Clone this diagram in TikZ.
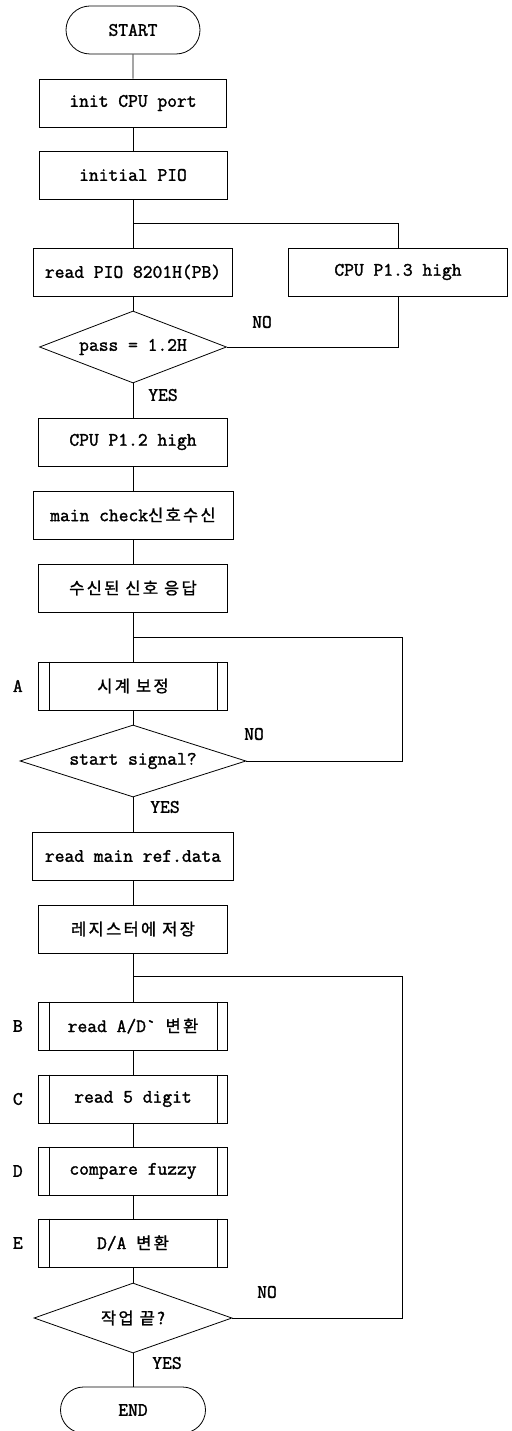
\documentclass[tikz,border=0pt]{standalone}
\usepackage{fontspec}
\setmonofont{Latin Modern Mono}[FakeBold=1.6]
\newfontfamily\kr{Noto Sans CJK KR}[LetterSpace=14, FakeBold=1.2]
\usepackage{tikz}
\usetikzlibrary{shapes.geometric, shapes.misc, positioning}

\newcommand{\hangul}[1]{{\kr\mdseries\fontsize{16.5}{19}\selectfont #1}}

\tikzset{
	proc/.style={draw, rectangle, minimum width=189pt, minimum height=48pt, inner sep=0pt},
	sub/.style={proc},
	dec/.style={draw, diamond, aspect=3, inner sep=0pt, minimum height=72pt},
	term/.style={draw, rounded rectangle, minimum width=134pt, minimum height=48pt, inner sep=0pt},
	tag/.style={inner sep=0pt},
}

\begin{document}
\begin{tikzpicture}[x=1pt, y=-1pt, line width=0.8pt, font=\fontsize{19}{22}\selectfont\ttfamily]
			\def\cx{133};
			\def\rx{402};

			\useasboundingbox (0,0) rectangle (511,1431);

			% main column
			\node[term] (start) at (\cx,30) {START};
			\node[proc, minimum width=187pt] (init) at (\cx,103) {init CPU port};
			\node[proc, minimum width=188pt] (pio) at (\cx,175) {initial PIO};
			\coordinate (j1) at (\cx,223);
			\node[proc, minimum width=199pt] (readpio) at (\cx,272) {read PIO 8201H(PB)};
			\node[proc, minimum width=219pt] (p13) at (398,272) {CPU P1.3 high};
			\node[dec, minimum width=187pt] (pass) at (\cx,347) {pass = 1.2H};
			\node[proc] (p12) at (\cx,442) {CPU P1.2 high};
			\node[proc, minimum width=200pt] (check) at (\cx,515) {main check\hangul{신호수신}};
			\node[proc] (reply) at (\cx,588) {\hangul{수신된 신호 응답}};
			\coordinate (j2) at (\cx,637);
			\coordinate (r2) at (\rx,637);
			\node[sub] (clock) at (\cx,686) {\hangul{시계 보정}};
			\node[dec, minimum width=226pt] (sig) at (\cx,761) {start signal?};
			\node[proc, minimum width=201pt] (ref) at (\cx,856) {read main ref.data};
			\node[proc] (reg) at (\cx,929) {\hangul{레지스터에 저장}};
			\coordinate (j3) at (\cx,976);
			\coordinate (r3) at (\rx,976);
			\node[sub] (adconv) at (\cx,1026) {read A/D\textasciigrave{} \hangul{변환}};
			\node[sub] (digit) at (\cx,1099) {read 5 digit};
			\node[sub] (fuzzy) at (\cx,1171) {compare fuzzy};
			\node[sub] (daconv) at (\cx,1243) {D/A \hangul{변환}};
			\node[dec, minimum width=198pt, minimum height=70pt] (done) at (\cx,1318) {\hangul{작업 끝?}};
			\node[term, minimum width=145pt, minimum height=46pt] (end) at (\cx,1410) {END};

			% subroutine bars
			\foreach \n in {clock, adconv, digit, fuzzy, daconv} {
				\draw ([xshift=11pt]\n.north west) -- ([xshift=11pt]\n.south west);
				\draw ([xshift=-11pt]\n.north east) -- ([xshift=-11pt]\n.south east);
			}

			% side labels
			\node[tag, left=15pt of clock] {A};
			\node[tag, left=15pt of adconv] {B};
			\node[tag, left=15pt of digit] {C};
			\node[tag, left=15pt of fuzzy] {D};
			\node[tag, left=15pt of daconv] {E};
			\node[tag] (yes1) at (163,395) {YES};
			\node[tag] (no1) at (262,322) {NO};
			\node[tag] (yes2) at (165,807) {YES};
			\node[tag] (no2) at (254,734) {NO};
			\node[tag] (yes3) at (167,1363) {YES};
			\node[tag] (no3) at (267,1292) {NO};

			\begin{scope}
				\draw (start) -- (init);
				\draw (init) -- (pio);
				\draw (pio) -- (readpio);
				\draw (j1) -| (p13);
				\draw (readpio) -- (pass);
				\draw (pass.east) -| (p13);
				\draw (pass) -- (p12);
				\draw (p12) -- (check);
				\draw (check) -- (reply);
				\draw (reply) -- (clock);
				\draw (clock) -- (sig);
				\draw (sig.east) -| (r2) -- (j2);
				\draw (sig) -- (ref);
				\draw (ref) -- (reg);
				\draw (reg) -- (adconv);
				\draw (adconv) -- (digit);
				\draw (digit) -- (fuzzy);
				\draw (fuzzy) -- (daconv);
				\draw (daconv) -- (done);
				\draw (done.east) -| (r3) -- (j3);
				\draw (done) -- (end);
			\end{scope}
		\end{tikzpicture}
\end{document}
